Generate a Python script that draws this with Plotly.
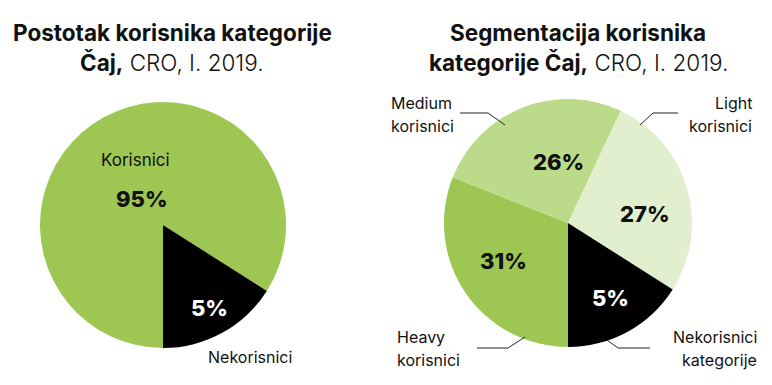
import plotly.graph_objects as go

# Left pie: users vs non-users (slice shares read from drawn angles, labels as printed)
left_labels = ["Korisnici", "Nekorisnici"]
left_shares = [84, 16]
left_pct = ["95%", "5%"]
left_colors = ["#9DC653", "#000000"]

# Right pie: segmentation
right_labels = ["Heavy korisnici", "Medium korisnici", "Light korisnici", "Nekorisnici kategorije"]
right_shares = [31, 26, 27, 16]
right_pct = ["31%", "26%", "27%", "5%"]
right_colors = ["#9DC653", "#BCDB8A", "#E2EFCF", "#000000"]

# page body adds an 8px margin; lay out in window coordinates
OFF = 8
W, H = 772 - OFF, 385 - OFF
FONT = "Inter"

def px(x):
    return (x - OFF) / W

def py(y):
    return 1 - (y - OFF) / H

fig = go.Figure()
fig.add_trace(go.Pie(
    labels=left_labels, values=left_shares, sort=False, direction="clockwise",
    rotation=180, marker=dict(colors=left_colors, line=dict(width=0)),
    textinfo="none", hoverinfo="label", showlegend=False,
    domain=dict(x=[px(40), px(286)], y=[py(348), py(102)]),
))
fig.add_trace(go.Pie(
    labels=right_labels, values=right_shares, sort=False, direction="clockwise",
    rotation=180, marker=dict(colors=right_colors, line=dict(width=0)),
    textinfo="none", hoverinfo="label", showlegend=False,
    domain=dict(x=[px(444), px(692)], y=[py(347), py(99)]),
))

ann = []
def text(x, y, s, size=16, color="#111", weight=400, xanchor="center"):
    ann.append(dict(x=px(x), y=py(y), xref="paper", yref="paper", text=s,
                    showarrow=False, xanchor=xanchor, yanchor="middle",
                    font=dict(family=FONT, size=size, color=color, weight=weight)))

LIGHT = '<span style="font-weight:300">'
# Titles
text(172, 32, "<b>Postotak korisnika kategorije</b>", size=22.5, color="#111")
text(172, 62, "<b>Čaj,</b>" + LIGHT + " CRO, I. 2019.</span>", size=22.5, color="#111")
text(578, 32, "<b>Segmentacija korisnika</b>", size=22.5, color="#111")
text(578, 62, "<b>kategorije Čaj,</b>" + LIGHT + " CRO, I. 2019.</span>", size=22.5, color="#111")

# Left pie labels
text(135, 160, left_labels[0], size=17)
text(142, 199, left_pct[0], size=22, weight=800)
text(210, 308, left_pct[1], size=22, weight=800, color="#FFFFFF")
text(250, 357, left_labels[1], size=16)

# Right pie percentages
text(503, 261, right_pct[0], size=22, weight=800)
text(558, 162, right_pct[1], size=22, weight=800)
text(645, 214, right_pct[2], size=22, weight=800)
text(610, 298, right_pct[3], size=22, weight=800, color="#FFFFFF")

# Right pie outer labels (two lines each)
for (x, y, lines, anchor) in [
    (389, 103, ["Medium", "korisnici"], "left"),
    (754, 103, ["Light", "korisnici"], "right"),
    (395, 337, ["Heavy", "korisnici"], "left"),
    (759, 337, ["Nekorisnici", "kategorije"], "right"),
]:
    for i, ln in enumerate(lines):
        text(x, y + i * 23, ln, size=16, xanchor=anchor)

fig.update_layout(annotations=ann)

# Leader lines
def leader(points):
    path = "M " + " L ".join(f"{px(x)},{py(y)}" for x, y in points)
    fig.add_shape(type="path", path=path, xref="paper", yref="paper",
                  line=dict(color="#222", width=1))

leader([(460, 113), (488, 113), (505, 125)])
leader([(678, 113), (653, 113), (640, 125)])
leader([(477, 348), (508, 348), (525, 337)])
leader([(650, 348), (618, 348), (607, 340)])

fig.update_layout(
    width=W, height=H, margin=dict(l=0, r=0, t=0, b=0),
    paper_bgcolor="white", plot_bgcolor="white",
    font=dict(family=FONT),
)
fig.write_html("out.html")
